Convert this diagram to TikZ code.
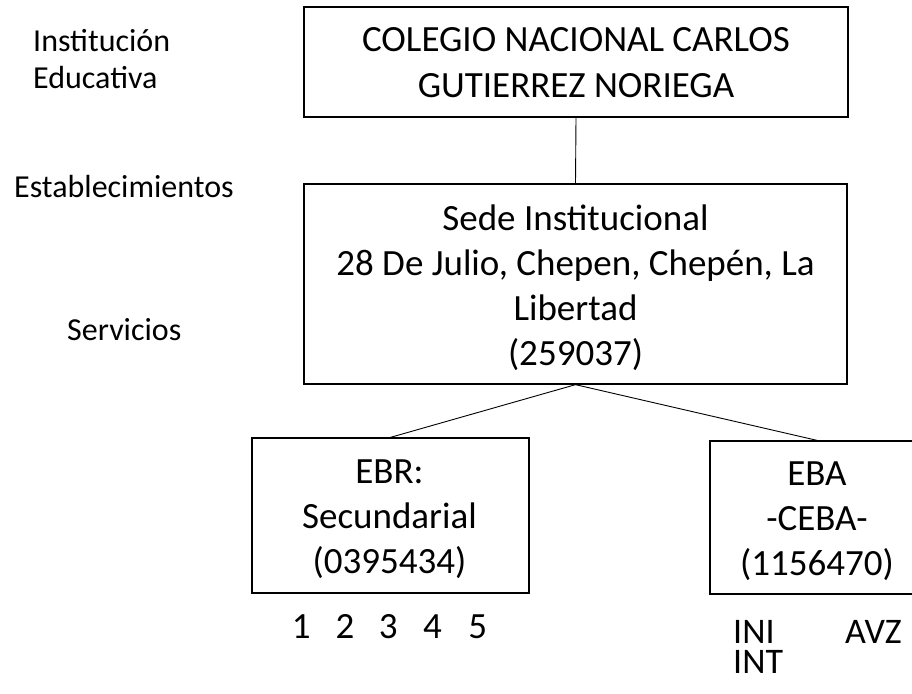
\documentclass[tikz,border=0pt]{standalone}
\usepackage{fontspec}
\setmainfont{Carlito}
\begin{document}
\begin{tikzpicture}[x=1pt,y=-1pt,
  box/.style={draw=black,line width=1.3pt,rectangle,inner sep=0pt},
  link/.style={draw=black,line width=0.9pt},
  txt/.style={anchor=base,inner sep=0pt,font=\fontsize{37}{45}\selectfont},
  lab/.style={anchor=base west,inner sep=0pt,font=\fontsize{32}{36}\selectfont},
  sub/.style={anchor=base west,inner sep=0pt,font=\fontsize{36}{40}\selectfont}]
\useasboundingbox (0,0) rectangle (912,693);
\clip (0,0) rectangle (912,693);
% boxes
\node[box,minimum width=544pt,minimum height=110pt] (top) at (576,62) {};
\node[box,minimum width=543pt,minimum height=200pt] (sede) at (575.5,284) {};
\node[box,minimum width=277pt,minimum height=155pt] (ebr) at (390.5,515.5) {};
\node[box,minimum width=214pt,minimum height=153pt] (eba) at (817,517.5) {};
% box texts
\node[txt] (t1) at (576,52) {COLEGIO NACIONAL CARLOS};
\node[txt] (t2) at (576,97) {GUTIERREZ NORIEGA};
\node[txt] (s1) at (575.5,230) {Sede Institucional};
\node[txt] (s2) at (575.5,275) {28 De Julio, Chepen, Chepén, La};
\node[txt] (s3) at (575.5,320) {Libertad};
\node[txt] (s4) at (575.5,365) {(259037)};
\node[txt] (r1) at (389.5,483) {EBR:};
\node[txt] (r2) at (389.5,528) {Secundarial};
\node[txt] (r3) at (389.5,573) {(0395434)};
\node[txt] (a1) at (817,485) {EBA};
\node[txt] (a2) at (817,530) {-CEBA-};
\node[txt] (a3) at (817,575) {(1156470)};
% connectors
\draw[link] (top.south) -- (sede.north);
\draw[link] (sede.south) -- (ebr.north);
\draw[link] (sede.south) -- (eba.north);
% side labels
\node[lab] (l1) at (33,52) {Institución};
\node[lab] (l2) at (33,88) {Educativa};
\node[lab] (l3) at (14,197) {Establecimientos};
\node[lab] (l4) at (67,340) {Servicios};
% bottom labels
\node[txt] (nums) at (389.5,638)
  {1\hspace{25pt}2\hspace{24.5pt}3\hspace{25.5pt}4\hspace{26.5pt}5};
\node[sub] (ini) at (733,643) {INI};
\node[sub] (avz) at (845,643) {AVZ};
\node[sub] (int) at (733,673) {INT};
\end{tikzpicture}
\end{document}
